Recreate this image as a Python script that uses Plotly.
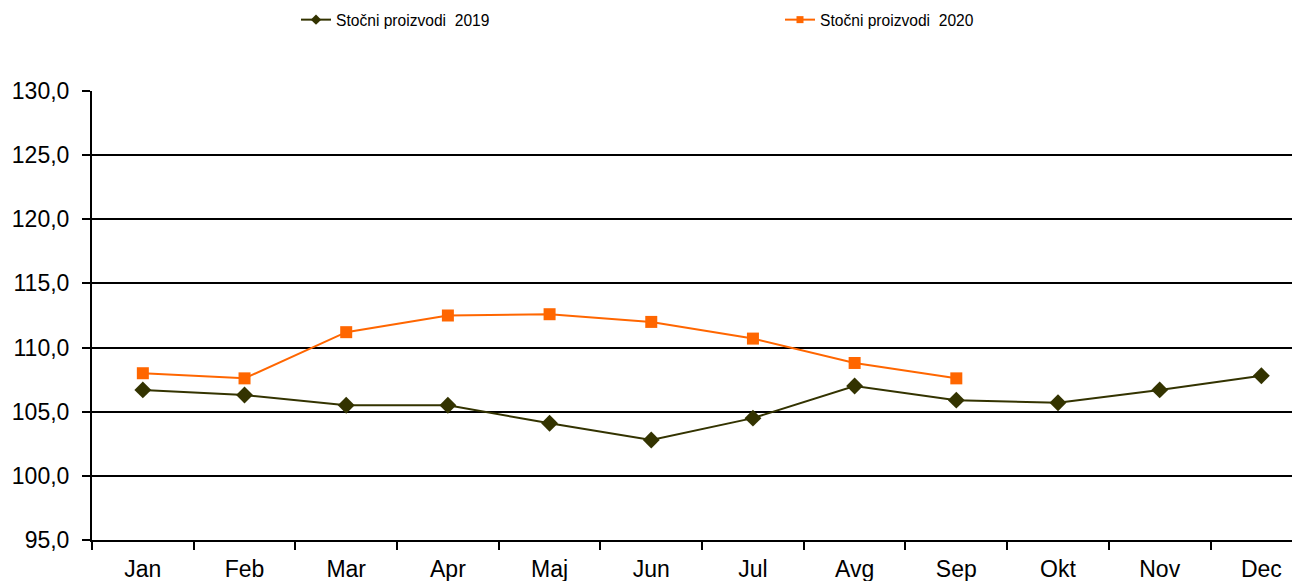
import plotly.graph_objects as go

months = ["Jan", "Feb", "Mar", "Apr", "Maj", "Jun", "Jul", "Avg", "Sep", "Okt", "Nov", "Dec"]
values_2019 = [106.7, 106.3, 105.5, 105.5, 104.1, 102.8, 104.5, 107.0, 105.9, 105.7, 106.7, 107.8]
months_2020 = months[:9]
values_2020 = [108.0, 107.6, 111.2, 112.5, 112.6, 112.0, 110.7, 108.8, 107.6]

FONT = "Liberation Sans, Arial, sans-serif"
COLOR_2019 = "#333300"
COLOR_2020 = "#FF6600"

# the page body has an 8px margin, so the figure is sized to fill the rest
W, H = 1292, 573

fig = go.Figure()
fig.add_trace(go.Scatter(
    x=months, y=values_2019, name="Stočni proizvodi  2019",
    mode="lines+markers", legendgroup="2019", showlegend=False,
    line=dict(color=COLOR_2019, width=2),
    marker=dict(symbol="diamond", size=13, color=COLOR_2019),
))
fig.add_trace(go.Scatter(
    x=months_2020, y=values_2020, name="Stočni proizvodi  2020",
    mode="lines+markers", legendgroup="2020", showlegend=False,
    line=dict(color=COLOR_2020, width=2),
    marker=dict(symbol="square", size=12, color=COLOR_2020),
))
# legend entries with the smaller symbols of the original
fig.add_trace(go.Scatter(
    x=[None], y=[None], name="Stočni proizvodi  2019",
    mode="lines+markers", legendgroup="2019",
    line=dict(color=COLOR_2019, width=2),
    marker=dict(symbol="diamond", size=8, color=COLOR_2019),
))
fig.add_trace(go.Scatter(
    x=[None], y=[None], name="Stočni proizvodi  2020",
    mode="lines+markers", legendgroup="2020",
    line=dict(color=COLOR_2020, width=2),
    marker=dict(symbol="square", size=7, color=COLOR_2020),
))

fig.update_layout(
    width=W,
    height=H,
    template="simple_white",
    paper_bgcolor="white",
    plot_bgcolor="white",
    margin=dict(l=84, r=0, t=83, b=41),
    font=dict(family=FONT, color="black"),
    separators=", ",
    showlegend=True,
    legend=dict(
        orientation="h",
        xref="container", yref="container",
        x=288 / W, y=1 - 12 / H, xanchor="left", yanchor="middle",
        font=dict(size=15.6, family=FONT),
        entrywidth=439,
        bgcolor="rgba(0,0,0,0)",
    ),
    xaxis=dict(
        type="category",
        categoryorder="array",
        categoryarray=months,
        range=[-0.5, 11.38],
        showline=True, linecolor="black", linewidth=2,
        ticks="outside", tickson="boundaries", ticklen=8,
        tickcolor="black", tickwidth=2,
        ticklabelstandoff=7,
        tickfont=dict(size=23, family=FONT),
        showgrid=False,
        zeroline=False,
        automargin=False,
    ),
    yaxis=dict(
        range=[95, 130],
        tickmode="linear", tick0=95, dtick=5,
        tickformat=".1f",
        showline=True, linecolor="black", linewidth=2,
        ticks="outside", ticklen=8, tickcolor="black", tickwidth=2,
        ticklabelstandoff=8,
        tickfont=dict(size=23, family=FONT),
        showgrid=True, gridcolor="black", gridwidth=2,
        zeroline=False,
        automargin=False,
    ),
)

fig.write_html("out.html")
